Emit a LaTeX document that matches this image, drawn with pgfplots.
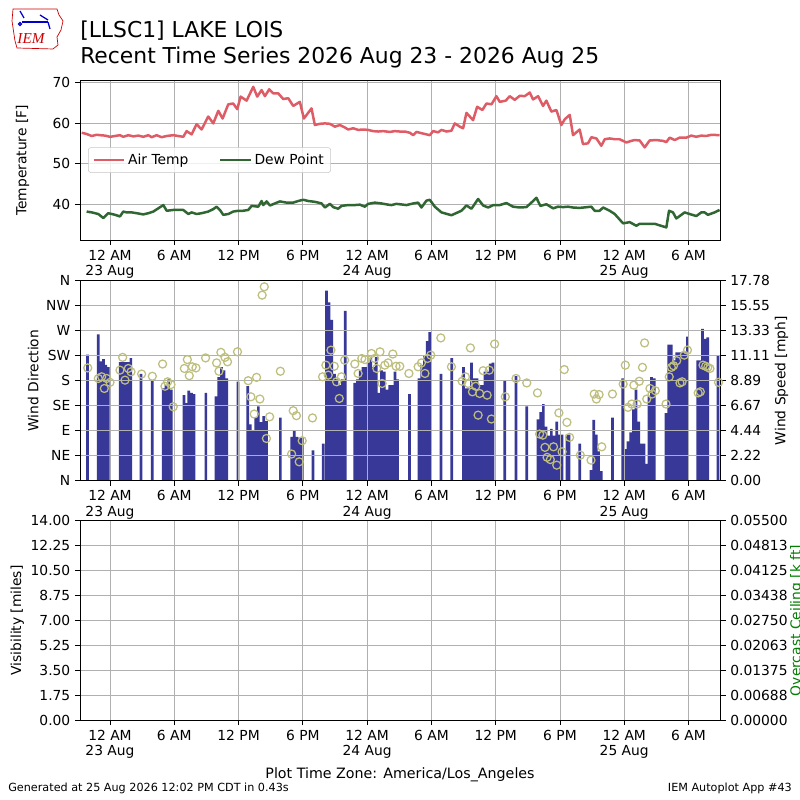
\documentclass[border=0pt]{standalone}
\usepackage{fontspec}
\setmainfont{DejaVu Sans}
\newfontfamily\logofont{Liberation Serif}
\usepackage{pgfplots}
\pgfplotsset{compat=1.18}
\definecolor{airred}{RGB}{222,92,102}
\definecolor{dewgreen}{RGB}{48,102,50}
\definecolor{barblue}{RGB}{56,56,152}
\definecolor{circ}{RGB}{190,190,125}
\definecolor{gridgray}{RGB}{176,176,176}
\definecolor{ceilgreen}{RGB}{0,128,0}
\newcommand\tl{\fontsize{10}{11.2}\selectfont}
\pgfplotsset{
  panel/.style={
    scale only axis, width=463pt, xmin=-2.8, xmax=57,
    xtick={0,6,12,18,24,30,36,42,48,54},
    xticklabels={{12 AM\\23 Aug},{6 AM},{12 PM},{6 PM},{12 AM\\24 Aug},{6 AM},{12 PM},{6 PM},{12 AM\\25 Aug},{6 AM}},
    xticklabel style={align=center},
    ticklabel style={font=\tl},
    label style={font=\tl},
    tick align=outside, major tick length=3.5pt,
    tick style={black, line width=0.6pt},
    axis line style={line width=0.6pt},
    grid style={gridgray, line width=0.6pt},
    /pgf/number format/assume math mode=true,
  },
}
\begin{document}
\begin{tikzpicture}
\useasboundingbox (0,0) rectangle (578.16pt,578.16pt);
% logo
\begin{scope}[x=0.7227pt,y=-0.7227pt,shift={(0pt,578.16pt)}]
\draw[red!80!black, line width=0.5pt] (13,9) -- (57,9) -- (59,15) -- (63,21) -- (61,30) -- (57,37) -- (58,45) -- (53,49) -- (17,48) -- (15,41) -- (12,21) -- cycle;
\draw[blue!80!black, line width=1.4pt] (22,22) -- (48,22);
\draw[blue!80!black, line width=0.9pt] (20,11) -- (24,18) (40,15) -- (48,20) (48,22) -- (50,29) (20,24) circle (1.5);
\node[red!80!black, font=\logofont\itshape\fontsize{11}{11}\selectfont] at (31,39) {IEM};
\end{scope}
% titles
\node[anchor=base west, inner sep=0pt, font=\fontsize{15.8}{18}\selectfont] at (57.8pt,551.4pt) {[LLSC1] LAKE LOIS};
\node[anchor=base west, inner sep=0pt, font=\fontsize{15.8}{18}\selectfont] at (57.8pt,532.3pt) {Recent Time Series 2026 Aug 23 - 2026 Aug 25};
\node[anchor=base, inner sep=0pt, font=\fontsize{10.3}{12}\selectfont] at (289.1pt,15.2pt) {Plot Time Zone: America/Los\_Angeles};
\node[anchor=base west, inner sep=0pt, font=\fontsize{8.1}{9}\selectfont] at (5.8pt,5.8pt) {Generated at 25 Aug 2026 12:02 PM CDT in 0.43s};
\node[anchor=base east, inner sep=0pt, font=\fontsize{8.1}{9}\selectfont] at (572.4pt,5.8pt) {IEM Autoplot App \#43};

% ---------- Panel 1: temperature
\begin{axis}[panel, at={(57.82pt,404.7pt)}, anchor=south west, height=115.1pt,
  ymin=31.2, ymax=70.4, ytick={40,50,60,70}, grid=major,
  xtick pos=left, ytick pos=left,
  ylabel={Temperature [F]}, ylabel style={at={(rel axis cs:-0.0897,0.5)}, anchor=center},
  legend columns=2,
  legend style={at={(0.0125,0.502)}, anchor=west, draw=gridgray!70, rounded corners=2pt,
    fill=white, fill opacity=0.8, text opacity=1, font=\tl, inner xsep=3pt, inner ysep=2.5pt,
    /tikz/every even column/.append style={column sep=20pt}},
  legend image code/.code={\draw[#1] (0pt,0pt) -- (22pt,0pt);},
]
\addplot[airred, line width=1.8pt, line join=round] table {
-2.64 57.6
-2.18 57.3
-1.71 56.8
-1.24 57.1
-0.93 57.0
-0.47 56.9
0 56.6
0.47 56.8
0.93 57.0
1.24 56.6
1.71 57.0
2.18 56.7
2.64 56.9
3.11 56.6
3.58 57.0
3.89 56.5
4.35 57.0
4.82 56.5
5.29 56.8
5.91 57.0
6.37 56.8
6.84 56.6
7.15 58.0
7.62 57.2
8.08 59.7
8.55 58.4
9.17 61.6
9.64 59.9
10.11 63.0
10.51 61.1
11.04 64.6
11.50 64.8
11.88 63.4
12.19 66.5
12.75 65.5
13.37 68.9
13.74 66.5
14.15 68.1
14.46 66.6
14.86 68.3
15.24 67.3
15.70 67.3
16.17 65.9
16.64 66.1
17.10 64.2
17.72 65.2
18.10 61.1
18.81 63.6
19.12 59.5
19.59 59.8
20.06 59.9
20.52 59.8
20.99 59.1
21.46 59.5
21.92 58.9
22.23 58.4
22.70 58.7
23.17 58.3
23.63 58.4
24.10 58.3
24.56 58.0
25.03 57.9
25.50 58.0
26.12 57.8
26.59 58.0
27.05 57.9
27.52 57.9
27.99 57.6
28.30 57.0
28.61 57.8
29.07 57.5
29.54 57.2
29.85 57.0
30.16 58.0
30.63 57.7
30.94 58.3
31.41 57.9
31.87 58.1
32.18 59.9
32.65 59.1
32.96 58.7
33.27 62.5
33.89 60.7
34.27 64.0
34.76 63.2
35.14 64.8
35.61 64.6
36.07 66.6
36.38 65.2
36.94 65.5
37.31 66.6
37.78 65.7
38.25 66.7
38.71 66.6
39.18 67.5
39.49 65.8
39.96 66.6
40.42 64.2
40.73 65.5
41.20 62.8
41.67 63.2
42.13 59.5
42.44 60.9
42.91 62.0
43.22 57.0
43.84 58.4
44.15 54.8
44.62 55.0
44.93 56.5
45.40 56.2
45.86 54.4
46.18 56.0
46.64 56.2
47.11 56.0
47.57 56.0
48.20 55.2
48.66 55.6
48.97 55.8
49.44 55.7
49.91 54.0
50.37 55.7
50.99 55.8
51.62 55.6
51.93 55.3
52.24 56.4
52.71 55.8
53.17 56.4
53.80 56.4
54.26 56.9
54.73 56.6
55.19 56.9
55.66 56.8
56.13 57.1
56.90 57.0
};
\addlegendentry{Air Temp}
\addplot[dewgreen, line width=1.8pt, line join=round] table {
-2.18 38.2
-1.71 38.0
-1.09 37.6
-0.62 36.6
-0.16 37.8
0.47 37.4
0.93 37.0
1.24 38.2
1.55 38.0
2.02 38.0
2.49 37.8
3.11 37.5
3.58 37.8
4.04 38.2
4.51 39.0
4.98 39.8
5.29 38.4
5.91 38.6
6.37 38.6
6.84 38.6
7.31 37.6
7.62 38.0
8.08 37.6
8.55 37.8
9.17 38.2
9.64 38.8
9.95 39.4
10.26 38.6
10.57 37.4
11.04 37.6
11.50 38.2
11.97 38.4
12.44 38.4
12.91 38.6
13.22 39.6
13.84 39.4
14.15 40.8
14.30 39.8
14.62 40.7
14.93 39.7
15.39 40.2
15.86 40.7
16.48 40.4
17.10 40.4
17.57 40.8
18.04 41.1
18.50 40.8
19.12 40.6
19.75 40.2
20.06 39.2
20.52 40.1
20.83 39.3
21.30 38.9
21.61 39.6
22.23 39.8
22.85 39.8
23.32 39.9
23.79 39.4
24.10 40.1
24.72 40.4
25.34 40.2
25.96 39.9
26.27 39.8
26.74 40.1
27.05 40.0
27.67 39.8
28.30 40.2
28.76 40.4
29.07 39.2
29.54 40.9
29.85 41.1
30.32 39.4
30.94 38.0
31.87 37.3
32.80 38.4
33.27 39.7
33.74 38.9
34.36 41.3
34.83 39.7
35.30 39.2
35.77 39.8
36.38 39.8
37.00 40.3
37.62 39.4
38.25 39.2
38.87 39.3
39.33 40.4
39.80 41.6
40.17 39.6
40.73 40.0
41.36 39.0
41.82 39.4
42.29 39.3
42.75 39.4
43.22 39.2
43.84 39.1
44.93 39.4
45.24 38.4
45.71 38.4
46.02 39.2
46.64 38.4
47.11 37.6
47.89 35.3
48.51 35.6
49.13 34.7
49.44 35.2
50.22 35.2
50.84 35.2
51.31 34.8
51.93 34.3
52.18 38.4
52.55 38.0
52.86 36.5
53.64 38.0
54.10 37.6
54.73 37.1
55.19 38.0
55.50 38.0
55.81 37.4
56.44 38.0
56.90 38.6
};
\addlegendentry{Dew Point}
\end{axis}

% ---------- Panel 2a: wind speed bars (right axis)
\begin{axis}[panel, at={(57.82pt,230.76pt)}, anchor=south west, height=144.54pt,
  axis y line*=right, axis x line=none,
  ymin=0, ymax=17.78,
  ytick={0,2.2225,4.445,6.6675,8.89,11.1125,13.335,15.5575,17.78},
  yticklabels={0.00,2.22,4.44,6.67,8.89,11.11,13.33,15.55,17.78},
  ylabel={Wind Speed [mph]}, ylabel style={at={(rel axis cs:1.095,0.5)}, anchor=center, rotate=0},
  ybar, bar width=0.25, bar shift=0pt,
]
\addplot[fill=barblue, draw=none] table {
-2.1 11.2
-1.1 13.0
-0.85 10.6
-0.6 10.8
-0.4 10.3
-0.15 10.1
0.95 10.55
1.2 10.55
1.45 10.55
1.7 10.55
1.95 10.9
2.9 9.5
3.95 8.9
4.97 8.2
5.22 8.5
5.47 9.0
5.72 8.1
6.9 7.6
7.1 6.9
7.35 8.0
7.6 7.8
7.85 7.7
8.95 7.8
9.9 7.5
10.15 9.2
10.4 10.1
10.65 9.8
10.9 9.1
11.95 8.8
12.85 8.4
13.1 5.0
13.35 4.5
13.6 5.6
13.85 6.6
14.1 5.2
14.35 5.75
14.6 5.3
15.9 5.6
16.95 3.9
17.2 4.4
17.45 3.9
17.7 3.8
17.95 3.8
18.95 2.7
19.9 3.3
20.2 16.9
20.45 15.85
20.7 14.3
20.95 9.5
21.2 9.0
21.45 8.5
21.7 9.0
21.95 15.1
22.85 8.7
23.1 9.0
23.35 9.8
23.6 10.1
23.85 10.1
24.1 10.5
24.35 10.9
24.6 10.1
24.85 11.0
25.1 7.8
25.35 9.8
25.6 9.7
25.85 8.1
26.1 8.5
26.35 8.5
26.6 9.7
26.85 9.0
27.95 7.7
28.85 9.1
29.1 10.3
29.35 11.1
29.6 12.4
29.85 13.2
30.9 9.5
31.9 10.9
33.0 10.1
33.25 8.2
33.5 8.2
33.75 10.5
34.0 9.1
34.25 9.1
34.5 8.5
34.75 8.5
35.0 9.7
35.25 9.7
35.5 10.4
35.75 10.5
36.85 8.9
37.9 9.3
38.9 6.6
39.95 5.45
40.2 6.1
40.45 6.8
40.7 4.8
40.95 4.0
41.2 4.6
41.45 4.0
41.7 5.25
41.95 4.1
42.2 4.1
42.65 4.1
42.85 4.1
43.85 3.3
44.9 0.95
45.15 5.4
45.4 4.1
45.6 2.6
45.85 0.86
46.9 5.6
47.85 9.1
48.1 2.8
48.35 3.5
48.6 4.3
48.85 6.35
49.1 8.1
49.35 5.25
49.6 3.3
49.85 3.3
50.05 1.5
50.3 7.5
50.55 9.2
50.8 9.1
51.9 6.0
52.15 12.1
52.4 12.1
52.65 10.7
52.9 11.4
53.15 11.4
53.4 11.4
53.65 11.4
53.9 12.8
54.85 10.7
55.1 10.7
55.3 13.5
55.55 12.6
55.8 12.75
56.75 11.1
};
\end{axis}

% ---------- Panel 2b: wind direction (left axis)
\begin{axis}[panel, at={(57.82pt,230.76pt)}, anchor=south west, height=144.54pt,
  ymin=0, ymax=360, ytick={0,45,90,135,180,225,270,315,360},
  yticklabels={N,NE,E,SE,S,SW,W,NW,N},
  xtick pos=left, ytick pos=left, grid=major,
  ylabel={Wind Direction}, ylabel style={at={(rel axis cs:-0.0729,0.5)}, anchor=center},
]
\addplot[only marks, mark=o, mark size=2.9pt, mark options={draw=circ, line width=0.9pt}] table {
-2.08 203
-1.09 184
-0.78 187
-0.53 166
-0.31 184
0 177
0.93 199
1.18 222
1.4 181
1.71 202
1.96 196
2.95 192
3.95 188
4.91 210
5.13 170
5.38 178
5.69 173
5.9 133
6.94 202
7.22 218
7.4 189
7.68 205
8.02 203
8.92 221
9.95 212
10.17 197
10.35 231
10.73 222
10.97 214
11.9 232
12.9 180
13.15 151
13.46 120
13.68 186
13.99 147
14.2 334
14.4 349
14.6 76
14.9 115
15.9 197
16.95 48
17.1 126
17.4 117
17.66 34
17.94 72
18.9 113
19.84 187
20.15 208
20.37 190
20.62 235
20.93 206
21.15 178
21.4 148
21.6 187
21.9 217
22.85 210
23.16 193
23.5 220
23.8 218
24.4 229
24.7 220
24.9 202
25.2 232
25.4 175
25.65 208
25.96 212
26.4 228
26.7 206
27.05 206
27.9 193
28.76 205
29.07 212
29.4 193
29.64 220
29.94 226
30.88 257
31.87 205
32.87 179
33.18 187
33.43 175
33.64 239
33.83 160
34.14 170
34.36 118
34.5 157
34.83 198
35.2 154
35.4 199
35.6 111
35.9 246
36.9 151
37.9 184
38.9 176
39.9 158
40.1 84
40.4 82
40.6 60
40.8 42
41.1 38
41.4 61
41.7 28
41.9 122
42.2 52
42.4 200
42.65 105
42.9 78
43.9 46
44.9 37
45.2 156
45.4 147
45.65 155
45.9 61
46.9 156
47.9 174
48.1 208
48.35 132
48.7 138
48.9 172
49.2 138
49.4 179
49.7 204
49.9 248
50.1 147
50.4 166
50.6 156
50.9 162
51.9 138
52.2 187
52.4 204
52.6 207
52.9 216
53.2 176
53.4 178
53.6 226
53.9 235
54.9 158
55.1 160
55.35 208
55.6 206
55.8 204
56.0 202
56.8 177
};
\end{axis}

% ---------- Panel 3a: visibility (left)
\begin{axis}[panel, at={(57.82pt,57.6pt)}, anchor=south west, height=144.25pt,
  ymin=0, ymax=14, ytick={0,1.75,3.5,5.25,7,8.75,10.5,12.25,14},
  yticklabels={0.00,1.75,3.50,5.25,7.00,8.75,10.50,12.25,14.00},
  xtick pos=left, ytick pos=left, grid=major,
  ylabel={Visibility [miles]}, ylabel style={at={(rel axis cs:-0.0978,0.5)}, anchor=center},
]
\addplot[draw=none, forget plot] coordinates {(-5,-5)};
\end{axis}

% ---------- Panel 3b: ceiling (right)
\begin{axis}[panel, at={(57.82pt,57.6pt)}, anchor=south west, height=144.25pt,
  axis y line*=right, axis x line=none,
  ymin=0, ymax=8, ytick={0,1,2,3,4,5,6,7,8},
  yticklabels={0.00000,0.00688,0.01375,0.02063,0.02750,0.03438,0.04125,0.04813,0.05500},
  ylabel={Overcast Ceiling [k ft]}, ylabel style={at={(rel axis cs:1.119,0.5)}, anchor=center, rotate=0, text=ceilgreen},
]
\addplot[draw=none, forget plot] coordinates {(-5,-5)};
\end{axis}
\end{tikzpicture}
\end{document}
